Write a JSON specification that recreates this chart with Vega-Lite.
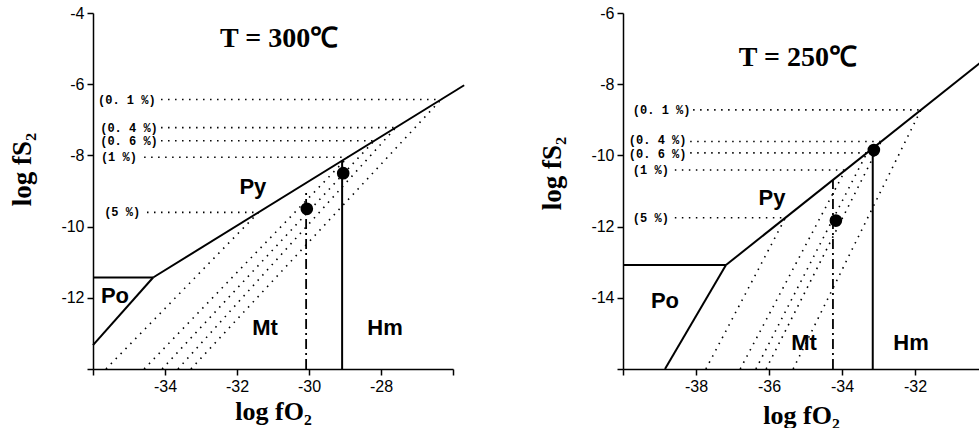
{
  "$schema": "https://vega.github.io/schema/vega-lite/v6.json",
  "background": "white",
  "padding": {"left": 8, "top": 5, "right": 0, "bottom": 0},
  "spacing": 170,
  "bounds": "flush",
  "config": {
    "view": {"stroke": null},
    "axis": {"grid": false, "domainColor": "black", "domainWidth": 1.5, "tickColor": "black", "tickWidth": 1.5, "tickSize": 6, "labelColor": "black", "labelFont": "Liberation Sans", "labelFontSize": 16, "labelPadding": 3, "labelFlush": false, "labelOverlap": false, "titleFont": "Liberation Serif", "titleFontWeight": "bold", "titleFontSize": 26, "titleColor": "black", "titleBaseline": "middle"}
  },
  "datasets": {
    "L_lines": [
      {"seg": "py", "style": "solid", "o": 1, "x": -34.33, "y": -11.43},
      {"seg": "py", "style": "solid", "o": 2, "x": -25.69, "y": -6.03},
      {"seg": "potop", "style": "solid", "o": 1, "x": -36, "y": -11.43},
      {"seg": "potop", "style": "solid", "o": 2, "x": -34.33, "y": -11.43},
      {"seg": "pomt", "style": "solid", "o": 1, "x": -36, "y": -13.33},
      {"seg": "pomt", "style": "solid", "o": 2, "x": -34.33, "y": -11.43},
      {"seg": "hm", "style": "solid", "o": 1, "x": -29.08, "y": -14},
      {"seg": "hm", "style": "solid", "o": 2, "x": -29.08, "y": -8.15},
      {"seg": "mt", "style": "dashdot", "o": 1, "x": -30.08, "y": -14},
      {"seg": "mt", "style": "dashdot", "o": 2, "x": -30.08, "y": -9.0},
      {"seg": "h01", "style": "dot", "o": 1, "x": -34.11, "y": -6.43},
      {"seg": "h01", "style": "dot", "o": 2, "x": -26.33, "y": -6.43},
      {"seg": "h04", "style": "dot", "o": 1, "x": -34.11, "y": -7.22},
      {"seg": "h04", "style": "dot", "o": 2, "x": -27.59, "y": -7.22},
      {"seg": "h06", "style": "dot", "o": 1, "x": -34.11, "y": -7.59},
      {"seg": "h06", "style": "dot", "o": 2, "x": -28.19, "y": -7.59},
      {"seg": "h1", "style": "dot", "o": 1, "x": -34.58, "y": -8.05},
      {"seg": "h1", "style": "dot", "o": 2, "x": -28.92, "y": -8.05},
      {"seg": "h5", "style": "dot", "o": 1, "x": -34.5, "y": -9.6},
      {"seg": "h5", "style": "dot", "o": 2, "x": -31.4, "y": -9.6},
      {"seg": "d01", "style": "dot", "o": 1, "x": -33.28, "y": -14},
      {"seg": "d01", "style": "dot", "o": 2, "x": -26.33, "y": -6.43},
      {"seg": "d04", "style": "dot", "o": 1, "x": -33.64, "y": -14},
      {"seg": "d04", "style": "dot", "o": 2, "x": -27.59, "y": -7.22},
      {"seg": "d06", "style": "dot", "o": 1, "x": -34.08, "y": -14},
      {"seg": "d06", "style": "dot", "o": 2, "x": -28.19, "y": -7.59},
      {"seg": "d1", "style": "dot", "o": 1, "x": -34.58, "y": -14},
      {"seg": "d1", "style": "dot", "o": 2, "x": -28.92, "y": -8.05},
      {"seg": "d5", "style": "dot", "o": 1, "x": -35.64, "y": -14},
      {"seg": "d5", "style": "dot", "o": 2, "x": -31.4, "y": -9.6}
    ],
    "R_lines": [
      {"seg": "py", "style": "solid", "o": 1, "x": -37.18, "y": -13.08},
      {"seg": "py", "style": "solid", "o": 2, "x": -30.22, "y": -7.4},
      {"seg": "potop", "style": "solid", "o": 1, "x": -40, "y": -13.08},
      {"seg": "potop", "style": "solid", "o": 2, "x": -37.18, "y": -13.08},
      {"seg": "pomt", "style": "solid", "o": 1, "x": -38.85, "y": -16},
      {"seg": "pomt", "style": "solid", "o": 2, "x": -37.18, "y": -13.08},
      {"seg": "hm", "style": "solid", "o": 1, "x": -33.16, "y": -16},
      {"seg": "hm", "style": "solid", "o": 2, "x": -33.16, "y": -9.85},
      {"seg": "mt", "style": "dashdot", "o": 1, "x": -34.25, "y": -16},
      {"seg": "mt", "style": "dashdot", "o": 2, "x": -34.25, "y": -10.69},
      {"seg": "h01", "style": "dot", "o": 1, "x": -38.08, "y": -8.72},
      {"seg": "h01", "style": "dot", "o": 2, "x": -31.84, "y": -8.72},
      {"seg": "h04", "style": "dot", "o": 1, "x": -38.16, "y": -9.61},
      {"seg": "h04", "style": "dot", "o": 2, "x": -32.93, "y": -9.61},
      {"seg": "h06", "style": "dot", "o": 1, "x": -38.16, "y": -9.93},
      {"seg": "h06", "style": "dot", "o": 2, "x": -33.32, "y": -9.93},
      {"seg": "h1", "style": "dot", "o": 1, "x": -38.58, "y": -10.41},
      {"seg": "h1", "style": "dot", "o": 2, "x": -33.91, "y": -10.41},
      {"seg": "h5", "style": "dot", "o": 1, "x": -38.58, "y": -11.75},
      {"seg": "h5", "style": "dot", "o": 2, "x": -35.55, "y": -11.75},
      {"seg": "d01", "style": "dot", "o": 1, "x": -35.34, "y": -16},
      {"seg": "d01", "style": "dot", "o": 2, "x": -31.84, "y": -8.72},
      {"seg": "d04", "style": "dot", "o": 1, "x": -36.08, "y": -16},
      {"seg": "d04", "style": "dot", "o": 2, "x": -32.93, "y": -9.61},
      {"seg": "d06", "style": "dot", "o": 1, "x": -36.36, "y": -16},
      {"seg": "d06", "style": "dot", "o": 2, "x": -33.32, "y": -9.93},
      {"seg": "d1", "style": "dot", "o": 1, "x": -36.79, "y": -16},
      {"seg": "d1", "style": "dot", "o": 2, "x": -33.91, "y": -10.41},
      {"seg": "d5", "style": "dot", "o": 1, "x": -37.73, "y": -16},
      {"seg": "d5", "style": "dot", "o": 2, "x": -35.55, "y": -11.75}
    ],
    "L_pts": [{"x": -30.06, "y": -9.5}, {"x": -29.05, "y": -8.5}],
    "R_pts": [{"x": -34.17, "y": -11.83}, {"x": -33.13, "y": -9.85}],
    "L_text": [
      {"kind": "title", "t": "T = 300℃", "x": -30.83, "y": -4.73},
      {"kind": "region", "t": "Py", "x": -31.56, "y": -8.9},
      {"kind": "region", "t": "Po", "x": -35.39, "y": -11.94},
      {"kind": "region", "t": "Mt", "x": -31.22, "y": -12.85},
      {"kind": "region", "t": "Hm", "x": -27.89, "y": -12.85},
      {"kind": "pct", "t": "(0. 1 %)", "x": -35.86, "y": -6.43},
      {"kind": "pct", "t": "(0. 4 %)", "x": -35.8, "y": -7.22},
      {"kind": "pct", "t": "(0. 6 %)", "x": -35.8, "y": -7.59},
      {"kind": "pct", "t": "(1 %)", "x": -35.78, "y": -8.05},
      {"kind": "pct", "t": "(5 %)", "x": -35.69, "y": -9.6}
    ],
    "R_text": [
      {"kind": "title", "t": "T = 250℃", "x": -35.21, "y": -7.26},
      {"kind": "region", "t": "Py", "x": -35.92, "y": -11.2},
      {"kind": "region", "t": "Po", "x": -38.85, "y": -14.1},
      {"kind": "region", "t": "Mt", "x": -35.04, "y": -15.27},
      {"kind": "region", "t": "Hm", "x": -32.11, "y": -15.27},
      {"kind": "pct", "t": "(0. 1 %)", "x": -39.73, "y": -8.72},
      {"kind": "pct", "t": "(0. 4 %)", "x": -39.84, "y": -9.58},
      {"kind": "pct", "t": "(0. 6 %)", "x": -39.84, "y": -9.95},
      {"kind": "pct", "t": "(1 %)", "x": -39.73, "y": -10.41},
      {"kind": "pct", "t": "(5 %)", "x": -39.73, "y": -11.75}
    ]
  },
  "hconcat": [
    {
      "width": 360,
      "height": 356,
      "encoding": {
        "x": {"field": "x", "type": "quantitative", "scale": {"domain": [-36, -26], "nice": false, "zero": false},
          "axis": {"values": [-36, -34, -32, -30, -28, -26], "labelExpr": "datum.value == -36 || datum.value == -26 ? '' : '' + datum.value", "title": "log  fO₂", "titleY": 42}},
        "y": {"field": "y", "type": "quantitative", "scale": {"domain": [-14, -4], "nice": false, "zero": false},
          "axis": {"values": [-14, -12, -10, -8, -6, -4], "labelExpr": "datum.value == -14 ? '' : '' + datum.value", "title": "log  fS₂", "titleX": -71, "titleY": 156, "titleFontSize": 27}}
      },
      "layer": [
        {"data": {"name": "L_lines"}, "transform": [{"filter": "datum.style == 'dot'"}],
         "mark": {"type": "line", "color": "black", "strokeWidth": 1.6, "strokeDash": [1.5, 5.5]},
         "encoding": {"detail": {"field": "seg"}, "order": {"field": "o"}}},
        {"data": {"name": "L_lines"}, "transform": [{"filter": "datum.style == 'solid'"}],
         "mark": {"type": "line", "color": "black", "strokeWidth": 2},
         "encoding": {"detail": {"field": "seg"}, "order": {"field": "o"}}},
        {"data": {"name": "L_lines"}, "transform": [{"filter": "datum.style == 'dashdot'"}],
         "mark": {"type": "line", "color": "black", "strokeWidth": 1.8, "strokeDash": [10, 4, 2, 4]},
         "encoding": {"detail": {"field": "seg"}, "order": {"field": "o"}}},
        {"data": {"name": "L_pts"}, "mark": {"type": "point", "filled": true, "color": "black", "opacity": 1, "size": 160}},
        {"data": {"name": "L_text"}, "transform": [{"filter": "datum.kind == 'title'"}],
         "mark": {"type": "text", "font": "Liberation Serif", "fontWeight": "bold", "fontSize": 28, "baseline": "middle", "align": "center", "color": "black"},
         "encoding": {"text": {"field": "t"}}},
        {"data": {"name": "L_text"}, "transform": [{"filter": "datum.kind == 'region'"}],
         "mark": {"type": "text", "font": "Liberation Sans", "fontWeight": "bold", "fontSize": 22, "baseline": "middle", "align": "center", "color": "black"},
         "encoding": {"text": {"field": "t"}}},
        {"data": {"name": "L_text"}, "transform": [{"filter": "datum.kind == 'pct'"}],
         "mark": {"type": "text", "font": "Liberation Mono", "fontWeight": "bold", "fontSize": 12, "baseline": "middle", "align": "left", "color": "black"},
         "encoding": {"text": {"field": "t"}}}
      ]
    },
    {
      "width": 356,
      "height": 356,
      "encoding": {
        "x": {"field": "x", "type": "quantitative", "scale": {"domain": [-40, -30.25], "nice": false, "zero": false},
          "axis": {"values": [-40, -38, -36, -34, -32], "labelExpr": "datum.value == -40 ? '' : '' + datum.value", "title": "log  fO₂", "titleY": 46}},
        "y": {"field": "y", "type": "quantitative", "scale": {"domain": [-16, -6], "nice": false, "zero": false},
          "axis": {"values": [-16, -14, -12, -10, -8, -6], "labelExpr": "datum.value == -16 ? '' : '' + datum.value", "title": "log  fS₂", "titleX": -71, "titleY": 160, "titleFontSize": 27}}
      },
      "layer": [
        {"data": {"name": "R_lines"}, "transform": [{"filter": "datum.style == 'dot'"}],
         "mark": {"type": "line", "color": "black", "strokeWidth": 1.6, "strokeDash": [1.5, 5.5]},
         "encoding": {"detail": {"field": "seg"}, "order": {"field": "o"}}},
        {"data": {"name": "R_lines"}, "transform": [{"filter": "datum.style == 'solid'"}],
         "mark": {"type": "line", "color": "black", "strokeWidth": 2},
         "encoding": {"detail": {"field": "seg"}, "order": {"field": "o"}}},
        {"data": {"name": "R_lines"}, "transform": [{"filter": "datum.style == 'dashdot'"}],
         "mark": {"type": "line", "color": "black", "strokeWidth": 1.8, "strokeDash": [10, 4, 2, 4]},
         "encoding": {"detail": {"field": "seg"}, "order": {"field": "o"}}},
        {"data": {"name": "R_pts"}, "mark": {"type": "point", "filled": true, "color": "black", "opacity": 1, "size": 160}},
        {"data": {"name": "R_text"}, "transform": [{"filter": "datum.kind == 'title'"}],
         "mark": {"type": "text", "font": "Liberation Serif", "fontWeight": "bold", "fontSize": 28, "baseline": "middle", "align": "center", "color": "black"},
         "encoding": {"text": {"field": "t"}}},
        {"data": {"name": "R_text"}, "transform": [{"filter": "datum.kind == 'region'"}],
         "mark": {"type": "text", "font": "Liberation Sans", "fontWeight": "bold", "fontSize": 22, "baseline": "middle", "align": "center", "color": "black"},
         "encoding": {"text": {"field": "t"}}},
        {"data": {"name": "R_text"}, "transform": [{"filter": "datum.kind == 'pct'"}],
         "mark": {"type": "text", "font": "Liberation Mono", "fontWeight": "bold", "fontSize": 12, "baseline": "middle", "align": "left", "color": "black"},
         "encoding": {"text": {"field": "t"}}}
      ]
    }
  ]
}
